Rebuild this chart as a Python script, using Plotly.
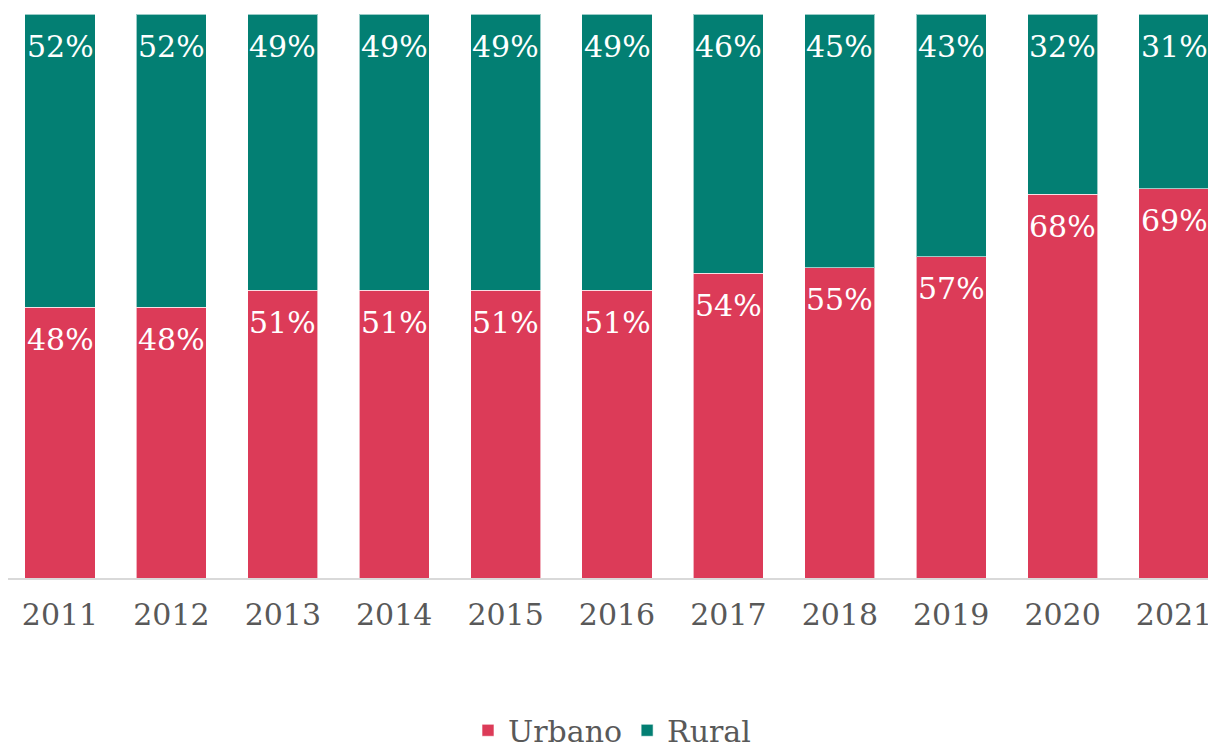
import plotly.graph_objects as go

years = ["2011", "2012", "2013", "2014", "2015", "2016", "2017", "2018", "2019", "2020", "2021"]
urbano = [48, 48, 51, 51, 51, 51, 54, 55, 57, 68, 69]
rural = [52, 52, 49, 49, 49, 49, 46, 45, 43, 32, 31]

RED = "#DC3B58"
TEAL = "#037F73"
FONT = "DejaVu Serif"

fig = go.Figure()
fig.add_trace(go.Bar(x=years, y=urbano, name="Urbano", marker=dict(color=RED, line=dict(color="rgba(255,255,255,0.6)", width=1))))
fig.add_trace(go.Bar(x=years, y=rural, name="Rural", marker=dict(color=TEAL, line=dict(color="rgba(255,255,255,0.6)", width=1))))

annotations = []
for i, yr in enumerate(years):
    annotations.append(dict(x=i, y=urbano[i], xref="x", yref="y", text=f"{urbano[i]}%", showarrow=False,
                            yshift=-32, font=dict(family=FONT, size=30, color="white")))
    annotations.append(dict(x=i, y=urbano[i] + rural[i], xref="x", yref="y", text=f"{rural[i]}%", showarrow=False,
                            yshift=-32, font=dict(family=FONT, size=30, color="white")))

fig.update_layout(
    width=1216, height=748,
    barmode="stack", bargap=0.37,
    plot_bgcolor="white", paper_bgcolor="white",
    margin=dict(l=0, r=8, t=6, b=178, autoexpand=False),
    font=dict(family=FONT, color="#595959"),
    xaxis=dict(type="category", range=[-0.4668, 10.377], showgrid=False, showline=True, linecolor="#D9D9D9", linewidth=2,
               tickfont=dict(size=30, color="#595959"), ticks="", ticklabelstandoff=9),
    yaxis=dict(range=[0, 100], visible=False),
    legend=dict(orientation="h", x=0.5, xanchor="center", y=-0.27, yanchor="middle",
                font=dict(size=30, color="#595959"), itemwidth=30, traceorder="normal"),
    annotations=annotations,
    showlegend=True,
)

fig.write_html("out.html")
